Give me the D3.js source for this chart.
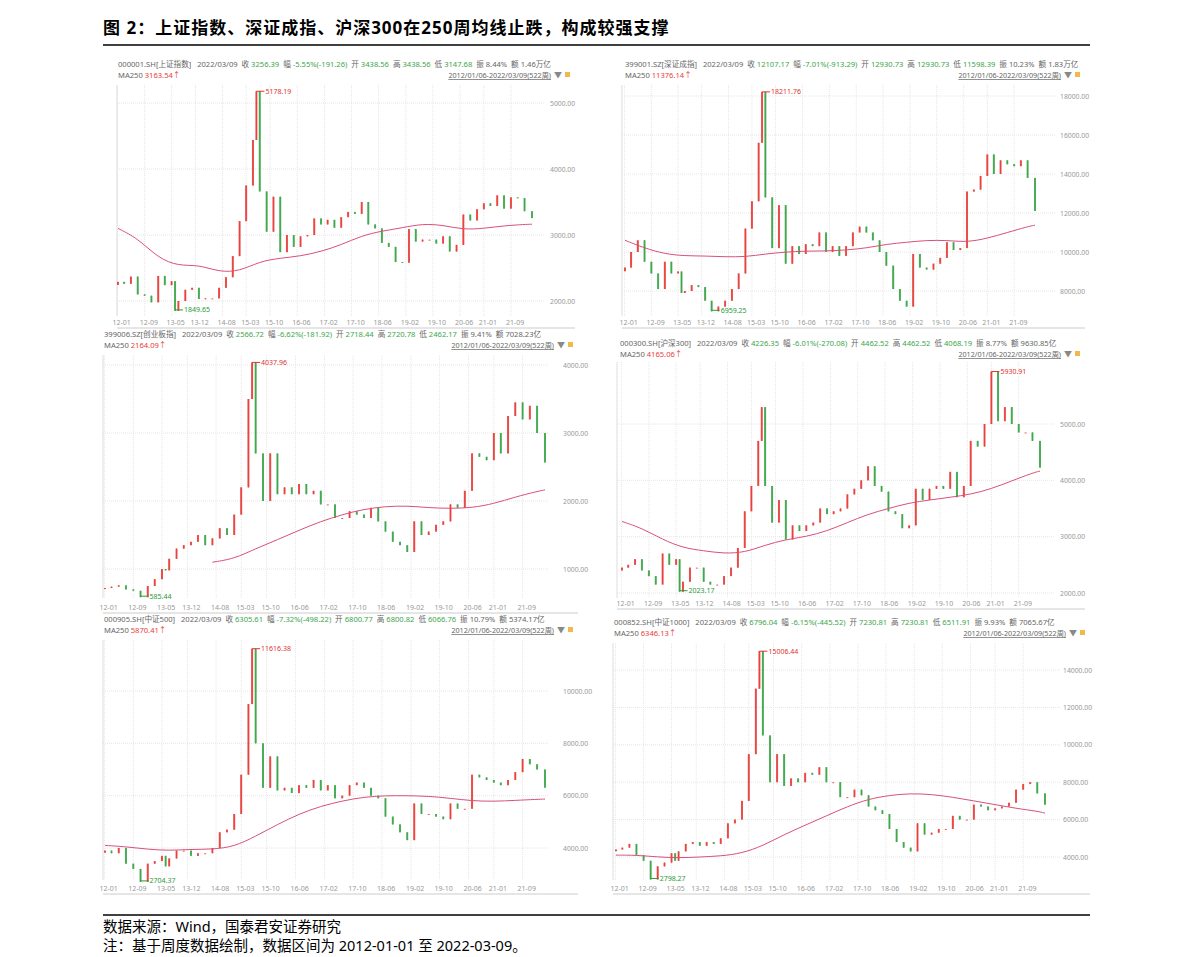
<!DOCTYPE html>
<html><head><meta charset="utf-8">
<script src="https://cdn.jsdelivr.net/npm/d3@7"></script>
<style>body{margin:0;background:#fff}text{font-family:"Noto Sans","Noto Sans CJK SC",sans-serif}</style>
</head><body><svg id="c" width="1191" height="957"></svg>
<script>
// bi-monthly sample dates (plus 2013-06 and 2015-06 extremes)
const dates = ["2012-01-06","2012-03","2012-05","2012-07","2012-09","2012-11",
 "2013-01","2013-03","2013-05","2013-06","2013-07","2013-09","2013-11",
 "2014-01","2014-03","2014-05","2014-07","2014-09","2014-11",
 "2015-01","2015-03","2015-05","2015-06","2015-07","2015-09","2015-11",
 "2016-01","2016-03","2016-05","2016-07","2016-09","2016-11",
 "2017-01","2017-03","2017-05","2017-07","2017-09","2017-11",
 "2018-01","2018-03","2018-05","2018-07","2018-09","2018-11",
 "2019-01","2019-03","2019-05","2019-07","2019-09","2019-11",
 "2020-01","2020-03","2020-05","2020-07","2020-09","2020-11",
 "2021-01","2021-03","2021-05","2021-07","2021-09","2021-11",
 "2022-01","2022-03-09"];
const maDates = ["2012-01-06","2012-07","2013-01","2013-07","2014-01","2014-07","2015-01","2015-07","2016-01","2016-07",
 "2017-01","2017-07","2018-01","2018-07","2019-01","2019-07","2020-01","2020-07","2021-01","2021-07","2022-01","2022-03-09"];
const xTickLabels = ["12-01","12-09","13-05","13-12","14-08","15-03","15-10","16-06","17-02","17-10","18-06","19-02","19-10","20-06","21-01","21-09"];

const sseClose = [2290,2260,2370,2100,2080,1980, 2380,2240,2300,1849.65,2000,2170,2200, 2030,2040,2040,2200,2360,2680,
 3210,3750,4440,5178.19,3660,3050,3580, 2740,3000,2820,2980,3000,3250, 3160,3230,3110,3270,3350,3320,
 3500,3160,3100,2880,2820,2590, 2580,3090,2900,2930,2930,2870, 2980,2750,2850,3310,3220,3390, 3480,3440,3600,3400,3570,3560, 3360,3256.39];
const szClose = [9200,10000,10600,9500,8900,8100, 9500,8900,9000,7900,8000,8300,8200, 7500,6959.25,7200,7500,8100,8900,
 11200,12600,15600,18211.76,12800,10200,12400, 9400,10300,9900,10400,10300,11000, 10000,10300,9800,10300,11000,11300,
 11000,10600,10000,9300,8100,7500, 7200,9900,9200,9100,9400,9700, 10500,10100,10200,13100,13200,13900, 15000,14000,14700,14500,14400,14700, 13800,12107.17];
const cybClose = [720,740,760,700,680,585.44, 750,850,1000,980,1150,1300,1350, 1400,1500,1350,1450,1600,1500,
 1800,2200,3500,4037.96,2700,2000,2700, 2100,2200,2100,2250,2100,2150, 1950,1950,1750,1750,1850,1800,
 1750,1900,1700,1550,1400,1350, 1250,1700,1500,1550,1650,1700, 1950,1900,2150,2700,2650,2600, 3000,2700,3250,3450,3200,3400, 3000,2566.72];
const hs300Close = [2450,2500,2600,2400,2300,2150, 2700,2500,2600,2023.17,2200,2450,2450, 2200,2150,2150,2300,2450,2800,
 3450,3900,4700,5300,3900,3250,3650, 2950,3200,3100,3200,3250,3500, 3400,3450,3500,3750,3850,4000,
 4250,3900,3800,3450,3400,3150, 3200,3850,3650,3850,3900,3850, 4150,3700,3900,4700,4600,5000, 5930.91,5050,5300,5000,4850,4850, 4700,4226.35];
const zz500Close = [3900,3800,4000,3400,3200,2704.37, 3400,3500,3700,3300,3600,3900,3900, 3700,3800,3800,4000,4600,4700,
 5300,6800,9500,11616.38,8000,6300,7500, 6200,6300,6100,6400,6300,6600, 6200,6400,5900,6000,6400,6500,
 6300,6000,5900,5200,4900,4600, 4300,5700,5300,5300,5200,5100, 5700,5500,5500,6800,6700,6600, 6500,6400,6600,6900,7400,7200, 7000,6305.61];
const zz1000Close = [4400,4500,4700,4100,3800,2798.27, 3500,3700,4200,3800,4300,4700,4800, 4600,4800,4700,5000,5800,6000,
 7000,9500,13000,15006.44,10500,8000,9500, 7800,8200,8000,8500,8400,8800, 8000,8000,7200,7200,7600,7300,
 6700,6500,6300,5500,4800,4500, 4300,5800,5200,5300,5500,5500, 6200,6000,6000,6800,6700,6500, 6600,6700,6900,7600,7900,8000, 7400,6796.04];

const sseMA = [3100,2950,2650,2530,2550,2440,2450,2600,2650,2680,2750,2850,2990,3060,3110,3170,3150,3080,3100,3140,3160,3163.54];
const szMA = [10600,10200,9900,9800,9800,9750,9750,9900,10000,10050,10050,10100,10200,10400,10500,10600,10600,10500,10700,11000,11300,11376.14];
const cybMA = [null,null,null,null,null,1100,1150,1300,1430,1570,1700,1800,1880,1920,1930,1900,1890,1900,1960,2060,2140,2164.09];
const hs300MA = [3270,3150,2950,2800,2750,2700,2720,2850,2950,3000,3100,3250,3400,3500,3600,3650,3700,3750,3850,3990,4130,4165.06];
const zz500MA = [4100,4050,3950,3900,3950,3950,4050,4450,4900,5300,5600,5800,5950,6000,6000,5980,5900,5800,5780,5820,5860,5870.41];
const zz1000MA = [4100,4100,4000,3950,4000,4050,4200,4600,5200,5700,6200,6700,7100,7300,7400,7350,7200,7000,6800,6600,6450,6346.13];

const headers = [
 ["000001.SH[上证指数]","3256.39","-5.55%(-191.26)","3438.56","3438.56","3147.68","8.44%","1.46万亿","3163.54"],
 ["399001.SZ[深证成指]","12107.17","-7.01%(-913.29)","12930.73","12930.73","11598.39","10.23%","1.83万亿","11376.14"],
 ["399006.SZ[创业板指]","2566.72","-6.62%(-181.92)","2718.44","2720.78","2462.17","9.41%","7028.23亿","2164.09"],
 ["000300.SH[沪深300]","4226.35","-6.01%(-270.08)","4462.52","4462.52","4068.19","8.77%","9630.85亿","4165.06"],
 ["000905.SH[中证500]","6305.61","-7.32%(-498.22)","6800.77","6800.82","6066.76","10.79%","5374.17亿","5870.41"],
 ["000852.SH[中证1000]","6796.04","-6.15%(-445.52)","7230.81","7230.81","6511.91","9.93%","7065.67亿","6346.13"]];
const yTicks = [[2000,3000,4000,5000],[8000,10000,12000,14000,16000,18000],[1000,2000,3000,4000],
 [2000,3000,4000,5000],[4000,6000,8000,10000],[4000,6000,8000,10000,12000,14000]];
const closes = [sseClose,szClose,cybClose,hs300Close,zz500Close,zz1000Close];
const mas = [sseMA,szMA,cybMA,hs300MA,zz500MA,zz1000MA];

// layout: header pos, plot x range (first/last date), grid box, y calibration [v0,y0,v1,y1]
const panels = [
 {hx:118,hy:67,x0:118,x1:532,gx0:117,gx1:545,top:85,bot:316,lab:322,cal:[2000,301,5000,103],tx:550},
 {hx:625,hy:67,x0:625,x1:1035,gx0:622,gx1:1055,top:85,bot:316,lab:322,cal:[8000,291,18000,96],tx:1060},
 {hx:104,hy:337,x0:105,x1:545,gx0:103,gx1:548,top:355,bot:598,lab:607,cal:[1000,569,4000,365],tx:563},
 {hx:620,hy:346,x0:622,x1:1040,gx0:617,gx1:1055,top:362,bot:598,lab:603,cal:[2000,593,5000,424],tx:1060},
 {hx:104,hy:622,x0:105,x1:545,gx0:103,gx1:548,top:640,bot:880,lab:888,cal:[4000,848,10000,691],tx:563},
 {hx:614,hy:625,x0:616,x1:1045,gx0:613,gx1:1060,top:643,bot:880,lab:888,cal:[4000,857,14000,670],tx:1063}];

const svg = d3.select("#c");
const parse = s => s.length > 7 ? d3.timeParse("%Y-%m-%d")(s) : d3.timeParse("%Y-%m")(s);
const parseTick = s => d3.timeParse("%y-%m")(s);
const up = "#e8403c", down = "#3da64a", gray = "#666";

svg.append("text").attr("x",103).attr("y",34).attr("font-size",17).attr("font-weight","bold")
  .attr("font-family","Noto Sans CJK SC").attr("letter-spacing",1)
  .text("图 2：上证指数、深证成指、沪深300在250周均线止跌，构成较强支撑");
svg.append("line").attr("x1",103).attr("x2",1090).attr("y1",45).attr("y2",45).attr("stroke","#000").attr("stroke-width",1.5);

panels.forEach((p,i) => {
  const g = svg.append("g");
  const x = d3.scaleTime().domain([parse(dates[0]), parse(dates[dates.length-1])]).range([p.x0,p.x1]);
  const y = d3.scaleLinear().domain([p.cal[0],p.cal[2]]).range([p.cal[1],p.cal[3]]);
  const h = headers[i];
  // header
  const t = g.append("text").attr("x",p.hx).attr("y",p.hy).attr("font-size",7.6).attr("fill",gray);
  const seg = [[h[0]+"   2022/03/09  收 ",gray],[h[1],down],["  幅 ",gray],[h[2],down],["  开 ",gray],[h[3],down],
    ["  高 ",gray],[h[4],down],["  低 ",gray],[h[5],down],["  振 ",gray],[h[6],gray],["  额 ",gray],[h[7],gray]];
  seg.forEach(s => t.append("tspan").attr("fill",s[1]).attr("xml:space","preserve").text(s[0]));
  const t2 = g.append("text").attr("x",p.hx).attr("y",p.hy+11).attr("font-size",7.6).attr("fill",gray);
  t2.append("tspan").text("MA250 ");
  t2.append("tspan").attr("fill",up).text(h[8]+"↑");
  g.append("text").attr("x",p.gx1+6).attr("y",p.hy+11).attr("font-size",7.2).attr("fill",gray)
    .attr("text-anchor","end").attr("text-decoration","underline").text("2012/01/06-2022/03/09(522周)");
  g.append("text").attr("x",p.gx1+9).attr("y",p.hy+11).attr("font-size",8).attr("fill","#888").text("▼");
  g.append("rect").attr("x",p.gx1+20).attr("y",p.hy+5).attr("width",5).attr("height",5).attr("fill","#f2b84a");

  // grid
  const gx = xTickLabels.map(parseTick);
  g.selectAll(".vg").data(gx).join("line").attr("x1",d=>x(d)).attr("x2",d=>x(d))
    .attr("y1",p.top).attr("y2",p.bot).attr("stroke","#e6e6e6").attr("stroke-dasharray","1,1");
  g.selectAll(".hg").data(yTicks[i]).join("line").attr("x1",p.gx0).attr("x2",p.gx1)
    .attr("y1",d=>y(d)).attr("y2",d=>y(d)).attr("stroke","#e6e6e6").attr("stroke-dasharray","1,1");
  g.append("line").attr("x1",p.gx0).attr("x2",p.gx0).attr("y1",p.top).attr("y2",p.bot).attr("stroke","#ddd");
  g.append("line").attr("x1",p.gx0).attr("x2",p.gx1+30).attr("y1",p.lab+6).attr("y2",p.lab+6).attr("stroke","#ccc");
  g.selectAll(".xl").data(xTickLabels).join("text").attr("x",d=>x(parseTick(d))-5).attr("y",p.lab+3)
    .attr("font-size",7).attr("fill","#999").text(d=>d);
  g.selectAll(".yl").data(yTicks[i]).join("text").attr("x",p.tx).attr("y",d=>y(d)+2.5)
    .attr("font-size",6.8).attr("fill","#999").text(d=>d3.format(".2f")(d));

  // candles
  const c = closes[i];
  const data = c.map((v,k) => ({d:parse(dates[k]), o:k?c[k-1]:v*0.98, c:v}));
  g.selectAll(".wick").data(data).join("line").attr("x1",d=>x(d.d)).attr("x2",d=>x(d.d))
    .attr("y1",d=>y(Math.max(d.o,d.c))).attr("y2",d=>y(Math.min(d.o,d.c)))
    .attr("stroke",d=>d.c>=d.o?up:down).attr("stroke-width",1);
  g.selectAll(".body").data(data).join("rect").attr("x",d=>x(d.d)-1).attr("width",2)
    .attr("y",d=>y(Math.max(d.o,d.c))).attr("height",d=>Math.max(1,Math.abs(y(d.o)-y(d.c))))
    .attr("fill",d=>d.c>=d.o?up:down).attr("opacity",0.85);

  // MA250
  const md = mas[i].map((v,k) => ({d:parse(maDates[k]), v}));
  g.append("path").datum(md).attr("fill","none").attr("stroke","#d9507a").attr("stroke-width",1)
    .attr("d", d3.line().defined(d=>d.v!=null).x(d=>x(d.d)).y(d=>y(d.v)).curve(d3.curveBasis));

  // max (red) and min (green) labels
  const mx = data.reduce((a,b)=>b.c>a.c?b:a), mn = data.reduce((a,b)=>b.c<a.c?b:a);
  const lab = (d,col,dy) => {
    g.append("line").attr("x1",x(d.d)).attr("x2",x(d.d)+8).attr("y1",y(d.c)+dy).attr("y2",y(d.c)+dy).attr("stroke",col);
    g.append("text").attr("x",x(d.d)+9).attr("y",y(d.c)+dy+2.5).attr("font-size",7).attr("fill",col).text(d3.format(".2f")(d.c));
  };
  lab(mx,"#d33",0); lab(mn,"#2a9a3a",-1);
});

svg.append("line").attr("x1",103).attr("x2",1090).attr("y1",915).attr("y2",915).attr("stroke","#000").attr("stroke-width",1.5);
svg.append("text").attr("x",103).attr("y",932).attr("font-size",14.5).attr("font-family","Liberation Serif, Noto Sans CJK SC").text("数据来源：Wind，国泰君安证券研究");
svg.append("text").attr("x",103).attr("y",951).attr("font-size",14.5).attr("font-family","Liberation Serif, Noto Sans CJK SC").text("注：基于周度数据绘制，数据区间为 2012-01-01 至 2022-03-09。");
</script></body></html>
